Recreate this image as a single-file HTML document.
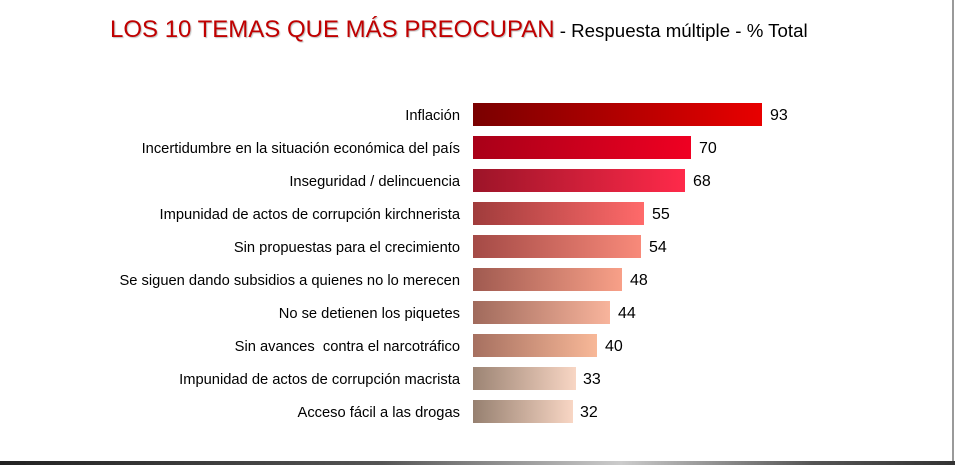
<!DOCTYPE html>
<html><head><meta charset="utf-8"><style>
body{margin:0;width:955px;height:465px;background:#fff;position:relative;overflow:hidden;font-family:"Liberation Sans",Arial,sans-serif;}
.t{position:absolute;left:110px;top:16px;white-space:nowrap;}
.t .a{color:#c00000;font-size:24px;text-shadow:1px 1px 1px rgba(0,0,0,0.25);}
.t .b{color:#000;font-size:18.7px;}
.l{position:absolute;right:495px;font-size:14.7px;color:#000;white-space:nowrap;line-height:23px;margin-top:2px;}
.bar{position:absolute;left:473px;height:23px;}
.v{position:absolute;font-size:16px;color:#000;line-height:23px;}
.rb{position:absolute;left:952px;top:0;width:2px;height:462px;background:#9a9a9a;}
.bb{position:absolute;left:0;top:461px;width:955px;height:4px;background:linear-gradient(90deg,#222 0%,#555 40%,#ccc 65%,#555 85%,#333 100%);}
</style></head><body>
<div class="t"><span class="a">LOS 10 TEMAS QUE MÁS PREOCUPAN</span><span class="b"> - Respuesta múltiple - % Total</span></div>

<div class="l" style="top:103px">Inflación</div>
<div class="bar" style="top:103px;width:289px;background:linear-gradient(90deg,#7a0000,#e80000)"></div>
<div class="v" style="top:104px;left:770px">93</div>

<div class="l" style="top:136px">Incertidumbre en la situación económica del país</div>
<div class="bar" style="top:136px;width:218px;background:linear-gradient(100deg,#a80018,#f00022)"></div>
<div class="v" style="top:137px;left:699px">70</div>

<div class="l" style="top:169px">Inseguridad / delincuencia</div>
<div class="bar" style="top:169px;width:212px;background:linear-gradient(90deg,#9c1428,#ff2a4a)"></div>
<div class="v" style="top:170px;left:693px">68</div>

<div class="l" style="top:202px">Impunidad de actos de corrupción kirchnerista</div>
<div class="bar" style="top:202px;width:171px;background:linear-gradient(90deg,#a03c3c,#ff6a6a)"></div>
<div class="v" style="top:203px;left:652px">55</div>

<div class="l" style="top:235px">Sin propuestas para el crecimiento</div>
<div class="bar" style="top:235px;width:168px;background:linear-gradient(90deg,#a44a46,#f88a7a)"></div>
<div class="v" style="top:236px;left:649px">54</div>

<div class="l" style="top:268px">Se siguen dando subsidios a quienes no lo merecen</div>
<div class="bar" style="top:268px;width:149px;background:linear-gradient(90deg,#a05a50,#f8a088)"></div>
<div class="v" style="top:269px;left:630px">48</div>

<div class="l" style="top:301px">No se detienen los piquetes</div>
<div class="bar" style="top:301px;width:137px;background:linear-gradient(90deg,#a06a5c,#f8b49c)"></div>
<div class="v" style="top:302px;left:618px">44</div>

<div class="l" style="top:334px">Sin avances &nbsp;contra el narcotráfico</div>
<div class="bar" style="top:334px;width:124px;background:linear-gradient(90deg,#a67060,#f8b898)"></div>
<div class="v" style="top:335px;left:605px">40</div>

<div class="l" style="top:367px">Impunidad de actos de corrupción macrista</div>
<div class="bar" style="top:367px;width:103px;background:linear-gradient(90deg,#9c8474,#f8d6c4)"></div>
<div class="v" style="top:368px;left:583px">33</div>

<div class="l" style="top:400px">Acceso fácil a las drogas</div>
<div class="bar" style="top:400px;width:100px;background:linear-gradient(90deg,#968070,#f8d6c4)"></div>
<div class="v" style="top:401px;left:580px">32</div>

<div class="rb"></div>
<div class="bb"></div>
</body></html>
